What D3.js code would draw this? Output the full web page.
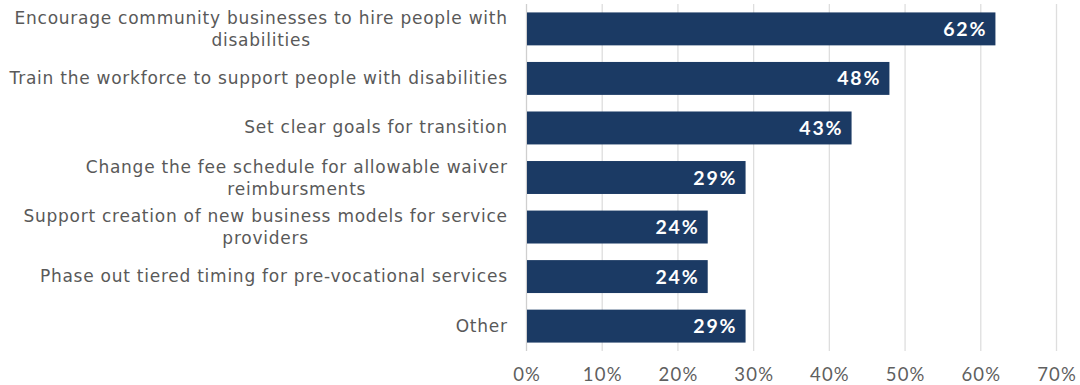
<!DOCTYPE html>
<html>
<head>
<meta charset="utf-8">
<script src="https://cdn.jsdelivr.net/npm/d3@7"></script>
<style>
  html, body { margin: 0; padding: 0; background: #ffffff; }
  svg { display: block; }
</style>
</head>
<body>
<svg id="chart" width="1080" height="385"></svg>
<script>
// Survey responses: share of respondents choosing each strategy
const categories = [
  ["Encourage community businesses to hire people with", "disabilities"],
  ["Train the workforce to support people with disabilities"],
  ["Set clear goals for transition"],
  ["Change the fee schedule for allowable waiver", "reimbursments"],
  ["Support creation of new business models for service", "providers"],
  ["Phase out tiered timing for pre-vocational services"],
  ["Other"]
];
const values = [62, 48, 43, 29, 24, 24, 29];
const tickValues = [0, 10, 20, 30, 40, 50, 60, 70];

const svg = d3.select("#chart");
const plot = { left: 526, right: 1056, top: 4, bottom: 351 };
const labelRight = 507;

const x = d3.scaleLinear().domain([0, 70]).range([plot.left, plot.right]);
const y = d3.scaleBand()
  .domain(d3.range(categories.length))
  .range([plot.top, plot.bottom])
  .paddingInner(0.335)
  .paddingOuter(0.17);

// Vertical gridlines and percentage tick labels
const tickSpacing = 1.2;
const axis = d3.axisBottom(x)
  .tickValues(tickValues)
  .tickFormat(d => d + "%")
  .tickSizeInner(-(plot.bottom - plot.top))
  .tickSizeOuter(0)
  .tickPadding(17);

const gAxis = svg.append("g")
  .attr("transform", `translate(0,${plot.bottom})`)
  .call(axis);
gAxis.select(".domain").remove();
gAxis.selectAll(".tick line")
  .attr("stroke", d => d === 0 ? "#cfcfcf" : "#dedede")
  .attr("stroke-width", 1.3);
gAxis.selectAll(".tick text")
  .attr("fill", "#5f5f5f")
  .attr("dx", tickSpacing / 2)
  .style("font-family", "Lato, 'Open Sans', sans-serif")
  .style("font-size", "18.5px")
  .style("letter-spacing", tickSpacing + "px");

// Bars
svg.append("g")
  .selectAll("rect")
  .data(values)
  .join("rect")
  .attr("x", x(0) + 1)
  .attr("y", (d, i) => y(i))
  .attr("width", d => x(d) - x(0) - 1)
  .attr("height", y.bandwidth())
  .attr("fill", "#1b3a64");

// Value labels inside the bar ends
const valueSpacing = 1.8;
svg.append("g")
  .selectAll("text")
  .data(values)
  .join("text")
  .attr("x", d => x(d) - 10 + valueSpacing)
  .attr("y", (d, i) => y(i) + y.bandwidth() / 2)
  .attr("dy", "0.36em")
  .attr("text-anchor", "end")
  .attr("fill", "#ffffff")
  .style("font-family", "Lato, 'Open Sans', sans-serif")
  .style("font-weight", "700")
  .style("font-size", "19.5px")
  .style("letter-spacing", valueSpacing + "px")
  .text(d => d + "%");

// Category labels: each block is centred on its widest line, right edge aligned
const lineHeight = 21.7;
const labelSpacing = 0.75;
const gLabels = svg.append("g")
  .style("font-family", "'DejaVu Sans', Verdana, sans-serif")
  .style("font-size", "17px")
  .style("letter-spacing", labelSpacing + "px")
  .attr("fill", "#595959");

categories.forEach((lines, i) => {
  const cy = y(i) + y.bandwidth() / 2;
  const t = gLabels.append("text").attr("text-anchor", "middle");
  const spans = lines.map((line, k) =>
    t.append("tspan")
      .attr("y", cy + 5.5 + (lines.length > 1 ? 0.8 : 0) + (k - (lines.length - 1) / 2) * lineHeight)
      .text(line)
  );
  const widest = d3.max(spans, s => s.node().getComputedTextLength());
  spans.forEach(s => s.attr("x", labelRight + labelSpacing - widest / 2));
});
</script>
</body>
</html>
